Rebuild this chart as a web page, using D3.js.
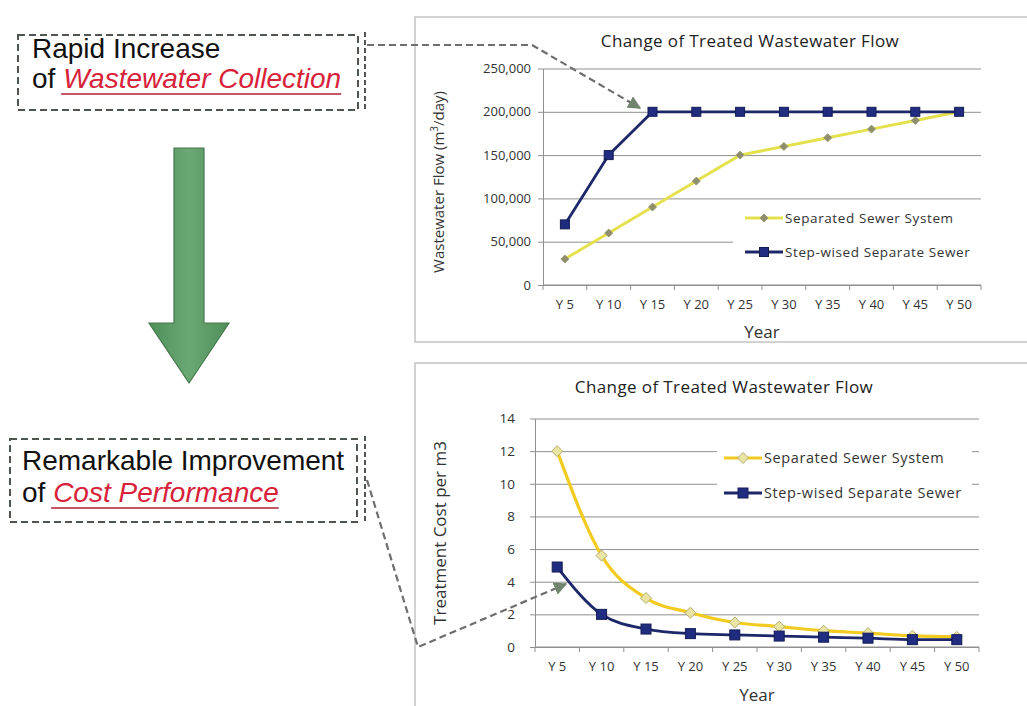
<!DOCTYPE html>
<html>
<head>
<meta charset="utf-8">
<script src="https://cdn.jsdelivr.net/npm/d3@7"></script>
<style>
  html, body { margin: 0; padding: 0; background: #ffffff; }
  svg { display: block; }
</style>
</head>
<body>
<svg id="canvas" width="1027" height="706"></svg>
<script>
// ---- data ----
const years = ["Y 5", "Y 10", "Y 15", "Y 20", "Y 25", "Y 30", "Y 35", "Y 40", "Y 45", "Y 50"];
const seriesNames = ["Separated Sewer System", "Step-wised Separate Sewer"];

// treated wastewater flow, m3/day
const flowSeparated = [30000, 60000, 90000, 120000, 150000, 160000, 170000, 180000, 190000, 200000];
const flowStepwise  = [70000, 150000, 200000, 200000, 200000, 200000, 200000, 200000, 200000, 200000];
const flowTicks = [0, 50000, 100000, 150000, 200000, 250000];

// treatment cost per m3
const costSeparated = [12, 5.6, 3.0, 2.1, 1.5, 1.25, 1.0, 0.85, 0.68, 0.62];
const costStepwise  = [4.9, 2.0, 1.1, 0.82, 0.74, 0.67, 0.6, 0.54, 0.45, 0.45];
const costTicks = [0, 2, 4, 6, 8, 10, 12, 14];

const svg = d3.select("#canvas");
const chartFont = "'Open Sans', Lato, sans-serif";
const navy = "#1d2769";

// arrowhead used by the dashed call-out connectors
const defs = svg.append("defs");
defs.append("marker")
  .attr("id", "callout-head")
  .attr("viewBox", "0 0 10 10")
  .attr("refX", 9).attr("refY", 5)
  .attr("markerWidth", 6).attr("markerHeight", 6)
  .attr("markerUnits", "strokeWidth")
  .attr("orient", "auto")
  .append("path")
  .attr("d", "M0,0 L10,5 L0,10 Z")
  .attr("fill", "#72866f");

const arrowGrad = defs.append("linearGradient").attr("id", "arrow-fill")
  .attr("x1", 0).attr("x2", 1).attr("y1", 0).attr("y2", 0);
arrowGrad.append("stop").attr("offset", "0%").attr("stop-color", "#4f8f5a");
arrowGrad.append("stop").attr("offset", "50%").attr("stop-color", "#6aa874");
arrowGrad.append("stop").attr("offset", "100%").attr("stop-color", "#4f8f5a");

// ---- one line chart panel ----
function drawPanel(cfg) {
  const g = svg.append("g");

  // outer frame
  g.append("rect")
    .attr("x", cfg.frame.x).attr("y", cfg.frame.y)
    .attr("width", cfg.frame.w).attr("height", cfg.frame.h)
    .attr("fill", "#ffffff").attr("stroke", "#c4c4c4").attr("stroke-width", 1.5);

  const x = d3.scaleBand().domain(years).range([cfg.plot.x0, cfg.plot.x1]);
  const y = d3.scaleLinear().domain([0, cfg.yMax]).range([cfg.plot.y0, cfg.plot.y1]);

  // horizontal gridlines with small outside ticks
  g.append("g")
    .attr("transform", `translate(${cfg.plot.x0},0)`)
    .call(d3.axisLeft(y).tickValues(cfg.ticks).tickSize(-(cfg.plot.x1 - cfg.plot.x0)).tickFormat(""))
    .call(s => s.select(".domain").remove())
    .call(s => s.selectAll(".tick line").attr("stroke", "#8f8f8f").attr("stroke-width", 1).attr("x1", -5));

  // y tick labels
  g.append("g")
    .attr("transform", `translate(${cfg.plot.x0},0)`)
    .call(d3.axisLeft(y).tickValues(cfg.ticks).tickSize(0).tickPadding(cfg.labelPad).tickFormat(cfg.tickFormat))
    .call(s => s.select(".domain").attr("stroke", "#8f8f8f"))
    .call(s => s.selectAll(".tick text")
      .attr("font-family", chartFont).attr("font-size", cfg.tickFont).attr("fill", "#333"));

  // x axis with ticks at category boundaries
  const bounds = years.map(d => x(d)).concat([cfg.plot.x1]);
  const xAxis = g.append("g");
  xAxis.append("line")
    .attr("x1", cfg.plot.x0).attr("x2", cfg.plot.x1)
    .attr("y1", cfg.plot.y0).attr("y2", cfg.plot.y0)
    .attr("stroke", "#8f8f8f");
  xAxis.selectAll("line.bound").data(bounds).join("line")
    .attr("class", "bound")
    .attr("x1", d => d).attr("x2", d => d)
    .attr("y1", cfg.plot.y0).attr("y2", cfg.plot.y0 + 5)
    .attr("stroke", "#8f8f8f");
  xAxis.selectAll("text").data(years).join("text")
    .attr("x", d => x(d) + x.bandwidth() / 2)
    .attr("y", cfg.plot.y0 + cfg.xLabelOffset)
    .attr("text-anchor", "middle")
    .attr("font-family", chartFont).attr("font-size", 13).attr("fill", "#333")
    .text(d => d);

  // titles
  g.append("text")
    .attr("x", cfg.titlePos[0]).attr("y", cfg.titlePos[1])
    .attr("text-anchor", "middle")
    .attr("font-family", chartFont).attr("font-size", 17).attr("letter-spacing", 0.4)
    .attr("fill", "#222")
    .text("Change of Treated Wastewater Flow");
  g.append("text")
    .attr("x", (cfg.plot.x0 + cfg.plot.x1) / 2).attr("y", cfg.plot.y0 + cfg.xTitleOffset)
    .attr("text-anchor", "middle")
    .attr("font-family", chartFont).attr("font-size", 17).attr("fill", "#333")
    .text("Year");
  const yt = g.append("text")
    .attr("transform", `translate(${cfg.yTitlePos[0]},${cfg.yTitlePos[1]}) rotate(-90)`)
    .attr("text-anchor", "middle")
    .attr("font-family", chartFont).attr("font-size", cfg.yTitleFont).attr("fill", "#333");
  cfg.yTitle(yt);

  // legend panel (white background hides the gridlines behind it)
  g.append("rect")
    .attr("x", cfg.legend.x).attr("y", cfg.legend.y)
    .attr("width", cfg.legend.w).attr("height", cfg.legend.h)
    .attr("fill", "#ffffff");

  const cx = d => x(d) + x.bandwidth() / 2;
  const series = [
    { name: seriesNames[0], values: cfg.sep, style: cfg.sepStyle },
    { name: seriesNames[1], values: cfg.step, style: cfg.stepStyle }
  ];

  series.forEach(s => {
    const pts = years.map((yr, i) => [cx(yr), y(s.values[i])]);
    g.append("path")
      .attr("d", d3.line().curve(cfg.curve)(pts))
      .attr("fill", "none")
      .attr("stroke", s.style.line).attr("stroke-width", s.style.width)
      .attr("stroke-linejoin", "round");
    drawMarkers(g, pts, s.style);
  });

  // legend entries
  series.forEach((s, i) => {
    const ly = cfg.legend.rows[i];
    const lx = cfg.legend.lineX;
    g.append("line")
      .attr("x1", lx).attr("x2", lx + 38)
      .attr("y1", ly).attr("y2", ly)
      .attr("stroke", s.style.line).attr("stroke-width", s.style.width);
    drawMarkers(g, [[lx + 19, ly]], s.style);
    g.append("text")
      .attr("x", lx + 40).attr("y", ly + 5)
      .attr("font-family", chartFont).attr("font-size", cfg.legend.font)
      .attr("letter-spacing", 0.6)
      .attr("fill", "#333")
      .text(s.name);
  });
}

function drawMarkers(g, pts, st) {
  if (st.shape === "square") {
    g.selectAll(null).data(pts).join("rect")
      .attr("x", d => d[0] - st.size / 2).attr("y", d => d[1] - st.size / 2)
      .attr("width", st.size).attr("height", st.size)
      .attr("fill", st.fill).attr("stroke", st.stroke).attr("stroke-width", 1);
  } else {
    const r = st.size / 2;
    g.selectAll(null).data(pts).join("path")
      .attr("d", d => `M${d[0]},${d[1] - r} L${d[0] + r},${d[1]} L${d[0]},${d[1] + r} L${d[0] - r},${d[1]} Z`)
      .attr("fill", st.fill).attr("stroke", st.stroke).attr("stroke-width", 1);
  }
}

// ---- upper panel: treated flow ----
drawPanel({
  frame: { x: 415, y: 17, w: 640, h: 325 },
  plot: { x0: 543, x1: 981, y0: 285, y1: 68.5 },
  yMax: 250000,
  ticks: flowTicks,
  tickFormat: d3.format(","),
  tickFont: 13,
  labelPad: 12,
  xLabelOffset: 24,
  xTitleOffset: 53,
  titlePos: [750, 47],
  yTitlePos: [444, 182],
  yTitleFont: 15,
  yTitle: t => {
    t.append("tspan").text("Wastewater Flow (m");
    t.append("tspan").attr("font-size", 10).attr("dy", -6).text("3");
    t.append("tspan").attr("dy", 6).text("/day)");
  },
  legend: { x: 733, y: 204, w: 250, h: 66, lineX: 745, rows: [218, 252], font: 13.5 },
  sep: flowSeparated,
  step: flowStepwise,
  curve: d3.curveLinear,
  sepStyle: { line: "#e4e14e", width: 3, shape: "diamond", size: 8, fill: "#8e8d6c", stroke: "#9b9a78" },
  stepStyle: { line: navy, width: 2.8, shape: "square", size: 9, fill: "#1f2c80", stroke: "#141c55" }
});

// ---- lower panel: treatment cost ----
drawPanel({
  frame: { x: 415, y: 363, w: 640, h: 360 },
  plot: { x0: 535, x1: 979, y0: 647, y1: 418.5 },
  yMax: 14,
  ticks: costTicks,
  tickFormat: d3.format("d"),
  tickFont: 13.5,
  labelPad: 20,
  xLabelOffset: 24,
  xTitleOffset: 54,
  titlePos: [724, 393],
  yTitlePos: [446, 533],
  yTitleFont: 17,
  yTitle: t => t.text("Treatment Cost per m3"),
  legend: { x: 717, y: 440, w: 255, h: 66, lineX: 724, rows: [458, 493], font: 14.5 },
  sep: costSeparated,
  step: costStepwise,
  curve: d3.curveMonotoneX,
  sepStyle: { line: "#f1cb1f", width: 3.2, shape: "diamond", size: 11, fill: "#e9e4a4", stroke: "#b3ab6c" },
  stepStyle: { line: navy, width: 2.8, shape: "square", size: 10, fill: "#1f2c80", stroke: "#141c55" }
});

// ---- left-hand call-outs ----
const calloutFont = "Arial, 'Liberation Sans', sans-serif";
const boxStroke = "#4e5650";

function callout(box, extraX, lines) {
  const g = svg.append("g");
  g.append("rect")
    .attr("x", box.x).attr("y", box.y).attr("width", box.w).attr("height", box.h)
    .attr("fill", "none").attr("stroke", boxStroke)
    .attr("stroke-width", 2).attr("stroke-dasharray", "7,4");
  g.append("line")
    .attr("x1", extraX).attr("x2", extraX)
    .attr("y1", box.y - 3).attr("y2", box.y + box.h - 1)
    .attr("stroke", boxStroke).attr("stroke-width", 2).attr("stroke-dasharray", "5,3");

  g.append("text")
    .attr("x", lines.x).attr("y", lines.y1)
    .attr("font-family", calloutFont).attr("font-size", 28).attr("fill", "#111")
    .text(lines.first);
  const t2 = g.append("text")
    .attr("x", lines.x).attr("y", lines.y2)
    .attr("font-family", calloutFont).attr("font-size", 28).attr("fill", "#111");
  t2.append("tspan").text("of ");
  const hl = t2.append("tspan")
    .attr("font-style", "italic").attr("fill", "#d8223a")
    .text(lines.highlight);
  // underline the highlighted phrase
  const start = lines.x + t2.node().getSubStringLength(0, 3);
  const len = hl.node().getComputedTextLength();
  g.append("line")
    .attr("x1", start - 2).attr("x2", start + len)
    .attr("y1", lines.y2 + 6).attr("y2", lines.y2 + 6)
    .attr("stroke", "#b31f33").attr("stroke-width", 1.5);
}

callout({ x: 18, y: 35, w: 340, h: 75 }, 365,
  { x: 32, y1: 58, y2: 88, first: "Rapid Increase", highlight: "Wastewater Collection" });
callout({ x: 10, y: 439, w: 347, h: 83 }, 365,
  { x: 22, y1: 470, y2: 502, first: "Remarkable Improvement", highlight: "Cost Performance" });

// dashed connectors from the call-outs to the charts
svg.append("path")
  .attr("d", "M367,45 H532 L640,108")
  .attr("fill", "none").attr("stroke", "#6e6e6e").attr("stroke-width", 2.2)
  .attr("stroke-dasharray", "7,4").attr("marker-end", "url(#callout-head)");
svg.append("path")
  .attr("d", "M367,480 L418,647 L566,584")
  .attr("fill", "none").attr("stroke", "#6e6e6e").attr("stroke-width", 2.2)
  .attr("stroke-dasharray", "7,4").attr("marker-end", "url(#callout-head)");

// big downward arrow between the call-outs
svg.append("path")
  .attr("d", "M174,148 H204 V323 H229 L189,383 L149,323 H174 Z")
  .attr("fill", "url(#arrow-fill)").attr("stroke", "#46784d").attr("stroke-width", 1.2);
</script>
</body>
</html>
